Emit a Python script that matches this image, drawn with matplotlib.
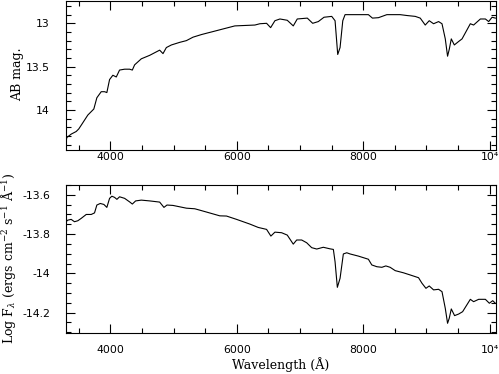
import matplotlib
matplotlib.use("Agg")
import matplotlib.pyplot as plt
from matplotlib.ticker import MultipleLocator, FuncFormatter

# ---- data ----
wl_top = [3300, 3312, 3382, 3461, 3502, 3556, 3645, 3740, 3788, 3857, 3910, 3946,
          3989, 4041, 4095, 4147, 4227, 4306, 4349, 4385, 4491, 4623, 4781, 4834,
          4887, 4967, 5098, 5204, 5309, 5442, 5547, 5601, 5811, 5970, 6287, 6366,
          6472, 6536, 6604, 6683, 6799, 6894, 6957, 7116, 7201, 7290, 7380, 7502,
          7555, 7597, 7634, 7677, 7713, 7792, 8082, 8146, 8241, 8374, 8479, 8585,
          8691, 8823, 8902, 8981, 9044, 9113, 9192, 9246, 9298, 9334, 9361, 9393,
          9441, 9509, 9563, 9694, 9746, 9853, 9932, 9984, 10038, 10090]
mag_top = [14.37, 14.32, 14.28, 14.25, 14.22, 14.16, 14.06, 13.99, 13.86, 13.79, 13.79, 13.80,
           13.65, 13.60, 13.62, 13.54, 13.53, 13.53, 13.54, 13.48, 13.41, 13.37, 13.31, 13.35,
           13.28, 13.25, 13.22, 13.20, 13.16, 13.13, 13.11, 13.10, 13.06, 13.03, 13.02, 13.005,
           13.00, 13.05, 12.97, 12.95, 12.965, 13.03, 12.95, 12.94, 13.00, 12.98, 12.93, 12.92,
           12.97, 13.36, 13.28, 12.97, 12.90, 12.90, 12.90, 12.94, 12.935, 12.90, 12.90, 12.90,
           12.91, 12.92, 12.94, 13.02, 12.97, 13.005, 12.98, 13.005, 13.18, 13.38, 13.30, 13.18,
           13.25, 13.21, 13.18, 13.005, 13.02, 12.95, 12.95, 12.98, 12.93, 12.94]

wl_bot = [3300, 3328, 3382, 3434, 3487, 3540, 3620, 3699, 3751, 3788, 3842, 3899,
          3946, 3989, 4025, 4068, 4105, 4147, 4227, 4306, 4349, 4401, 4491, 4623,
          4781, 4849, 4897, 4992, 5204, 5336, 5415, 5547, 5732, 5838, 5997, 6208,
          6339, 6472, 6540, 6604, 6710, 6799, 6894, 6948, 7027, 7106, 7185, 7265,
          7369, 7475, 7528, 7555, 7591, 7634, 7686, 7740, 7792, 7924, 8082, 8136,
          8216, 8295, 8358, 8426, 8506, 8637, 8743, 8875, 8929, 8992, 9044, 9113,
          9192, 9246, 9298, 9334, 9361, 9393, 9445, 9509, 9572, 9694, 9746, 9826,
          9932, 9995, 10048, 10090]
logf_bot = [-13.737, -13.729, -13.725, -13.737, -13.732, -13.720, -13.700, -13.700, -13.692, -13.652, -13.644, -13.649,
            -13.664, -13.618, -13.607, -13.613, -13.623, -13.610, -13.618, -13.636, -13.647, -13.631, -13.627, -13.631,
            -13.637, -13.664, -13.652, -13.654, -13.668, -13.671, -13.678, -13.690, -13.707, -13.708, -13.725, -13.749,
            -13.766, -13.776, -13.810, -13.790, -13.793, -13.805, -13.851, -13.830, -13.830, -13.844, -13.869, -13.876,
            -13.867, -13.875, -13.878, -13.941, -14.071, -14.025, -13.901, -13.895, -13.901, -13.912, -13.928, -13.957,
            -13.966, -13.969, -13.962, -13.969, -13.986, -13.997, -14.008, -14.022, -14.050, -14.076, -14.064, -14.084,
            -14.081, -14.093, -14.178, -14.254, -14.228, -14.181, -14.215, -14.207, -14.195, -14.132, -14.144, -14.132,
            -14.132, -14.152, -14.139, -14.152]

xlim = (3300, 10100)
xtick_labels = {4000: "4000", 6000: "6000", 8000: "8000", 10000: "10\u2074"}

plt.rcParams['axes.unicode_minus'] = False
plt.rcParams['mathtext.fontset'] = 'dejavuserif'

W, H = 499, 374
fig = plt.figure(figsize=(W / 100, H / 100), dpi=100)

def px_axes(x0, y0, x1, y1):
    return fig.add_axes([x0 / W, 1 - y1 / H, (x1 - x0) / W, (y1 - y0) / H])

ax1 = px_axes(66, 0.8, 496, 149.7)
ax2 = px_axes(66, 185, 496, 333.3)

def style(ax, xpad):
    for s in ax.spines.values():
        s.set_linewidth(0.8)
    ax.tick_params(which='both', direction='in', top=True, right=True,
                   width=0.8, labelsize=7.8, colors='black')
    ax.tick_params(which='major', length=6.5)
    ax.tick_params(which='minor', length=3.6)
    ax.tick_params(axis='y', pad=11.5)
    ax.tick_params(axis='x', pad=xpad)
    ax.set_xlim(*xlim)
    ax.xaxis.set_major_locator(MultipleLocator(2000))
    ax.xaxis.set_minor_locator(MultipleLocator(500))
    ax.xaxis.set_major_formatter(FuncFormatter(lambda v, p: xtick_labels.get(int(round(v)), "")))

ax1.plot(wl_top, mag_top, color='black', linewidth=0.8)
style(ax1, 1.5)
ax1.set_ylim(14.46, 12.74)
ax1.yaxis.set_major_locator(MultipleLocator(0.5))
ax1.yaxis.set_minor_locator(MultipleLocator(0.1))
ax1.yaxis.set_major_formatter(FuncFormatter(lambda v, p: "%g" % round(v, 2)))

ax2.plot(wl_bot, logf_bot, color='black', linewidth=0.8)
style(ax2, 8.5)
ax2.set_ylim(-14.305, -13.55)
ax2.yaxis.set_major_locator(MultipleLocator(0.2))
ax2.yaxis.set_minor_locator(MultipleLocator(0.05))
ax2.yaxis.set_major_formatter(FuncFormatter(lambda v, p: "%g" % round(v, 2)))

serif = 'DejaVu Serif'
fig.text(18 / W, 1 - 74 / H, "AB mag.", rotation=90, ha='center', va='center',
         fontsize=9, family=serif)
fig.text(8.5 / W, 1 - 258 / H, r"Log F$_\lambda$ (ergs cm$^{-2}$ s$^{-1}$ Å$^{-1}$)",
         rotation=90, ha='center', va='center', fontsize=9, family=serif)
fig.text(281 / W, 1 - 365 / H, "Wavelength (Å)", ha='center', va='center',
         fontsize=9, family=serif)

fig.savefig("out.png", dpi=100)
